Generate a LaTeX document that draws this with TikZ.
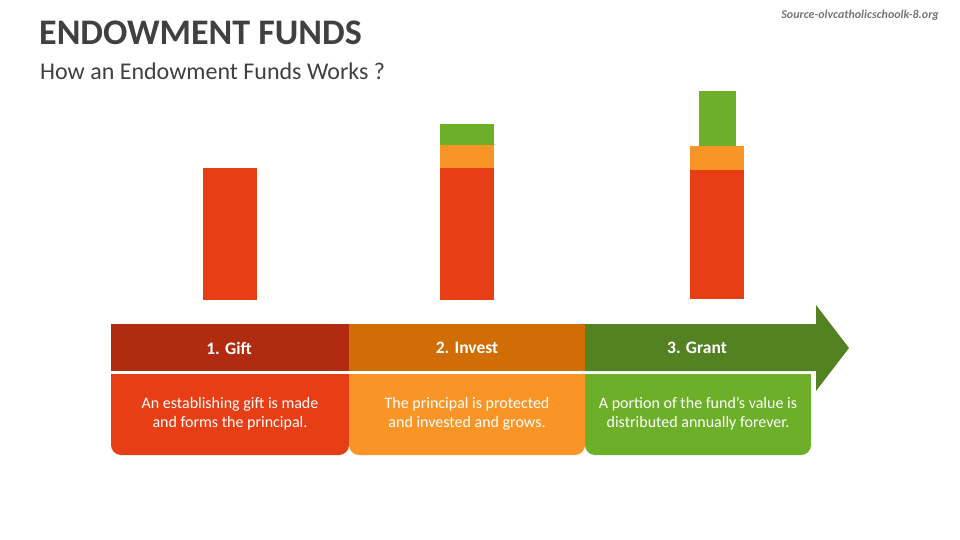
\documentclass[tikz,border=0pt]{standalone}
\usepackage{fontspec}
\setmainfont{Carlito}
\usepackage{tikz}
\definecolor{giftdark}{RGB}{176, 43, 16}
\definecolor{giftred}{RGB}{232, 62, 21}
\definecolor{investdark}{RGB}{208, 109, 4}
\definecolor{investorange}{RGB}{249, 149, 38}
\definecolor{grantdark}{RGB}{84, 130, 35}
\definecolor{grantgreen}{RGB}{109, 175, 40}
\definecolor{titlegrey}{RGB}{64, 64, 64}
\definecolor{sourcegrey}{RGB}{118, 118, 118}

\tikzset{
  headtext/.style={text=white, inner sep=0.75pt, font=\fontsize{17.5}{20}\selectfont\bfseries},
  bodytext/.style={text=white, inner sep=0.75pt, align=center, font=\fontsize{16}{19}\selectfont}
}

\begin{document}
\begin{tikzpicture}[x=1pt,y=1pt,yscale=-1,xscale=1]
\useasboundingbox (0,0) rectangle (960,540);

%Shape: Bar 1 [id:gift]
\fill[giftred] (203,168) rectangle (257,300);
%Shape: Bar 2 [id:invest]
\fill[giftred] (440,168) rectangle (494,300);
\fill[investorange] (440,145) rectangle (494,168);
\fill[grantgreen] (440,124) rectangle (494,145);
%Shape: Bar 3 [id:grant]
\fill[giftred] (690,170) rectangle (744,299);
\fill[investorange] (690,146) rectangle (744,170);
\fill[grantgreen] (699,91) rectangle (736,146);

%Shape: Arrow band
\fill[giftdark] (111,324) rectangle (349,371);
\fill[investdark] (349,324) rectangle (585,371);
\fill[grantdark] (585,324) -- (816,324) -- (816,305) -- (849,348) -- (816,391) -- (816,371) -- (585,371) -- cycle;

%Shape: Text boxes, round bottom corners
\fill[giftred, rounded corners=10] (111,374) rectangle (349,455);
\fill[giftred] (111,374) rectangle (349,394);
\fill[investorange, rounded corners=10] (349,374) rectangle (585,455);
\fill[investorange] (349,374) rectangle (585,394);
\fill[grantgreen, rounded corners=10] (585,374) rectangle (811,455);
\fill[grantgreen] (585,374) rectangle (811,394);

% Text Node
\node (title) [anchor=base west, inner sep=0pt, text=titlegrey, font=\fontsize{36}{42}\selectfont\bfseries] at (39,45) {ENDOWMENT FUNDS};
% Text Node
\node (subtitle) [anchor=base west, inner sep=0pt, text=titlegrey, font=\fontsize{24}{28}\selectfont] at (40,80) {How an Endowment Funds Works ?};
% Text Node
\node (source) [anchor=base east, inner sep=0pt, text=sourcegrey, font=\fontsize{12}{14}\selectfont\bfseries\itshape] at (939,19) {Source-olvcatholicschoolk-8.org};

% Text Node
\node (gifthead) [headtext] at (229,348) {1. Gift};
% Text Node
\node (investhead) [headtext] at (467,348) {2. Invest};
% Text Node
\node (granthead) [headtext] at (697,348) {3. Grant};

% Text Node
\node (giftbody) [bodytext] at (230,414) {An establishing gift is made\\and forms the principal.};
% Text Node
\node (investbody) [bodytext] at (467,414) {The principal is protected\\and invested and grows.};
% Text Node
\node (grantbody) [bodytext] at (698,414) {A portion of the fund’s value is\\distributed annually forever.};

\end{tikzpicture}
\end{document}
